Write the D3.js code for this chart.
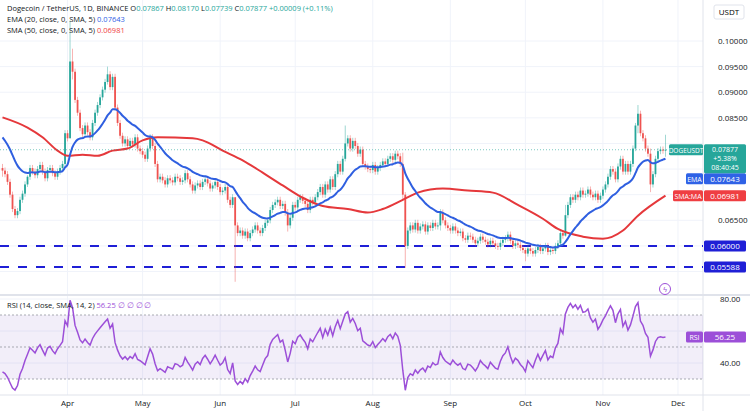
<!DOCTYPE html>
<html><head><meta charset="utf-8">
<script src="https://cdn.jsdelivr.net/npm/d3@7"></script>
<style>
body{margin:0;background:#fff;font-family:"Open Sans",sans-serif}
text{font-family:"Open Sans",sans-serif}
</style></head><body>
<svg id="main-svg" width="750" height="411"></svg>
<script>
// daily closes, Mar 6 .. Nov 27
let closes = [
0.0747,0.0740,0.0725,0.0700,0.0672,0.0660,0.0668,0.0690,0.0702,0.0720,
0.0735,0.0752,0.0745,0.0738,0.0750,0.0758,0.0745,0.0732,0.0748,0.0752,
0.0742,0.0735,0.0745,0.0752,0.0760,0.0820,0.0810,0.0960,0.0940,0.0885,
0.0860,0.0830,0.0818,0.0835,0.0822,0.0812,0.0840,0.0860,0.0875,0.0890,
0.0905,0.0920,0.0935,0.0910,0.0930,0.0870,0.0840,0.0815,0.0800,0.0808,
0.0795,0.0805,0.0798,0.0812,0.0790,0.0785,0.0778,0.0770,0.0790,0.0812,
0.0795,0.0760,0.0730,0.0735,0.0728,0.0720,0.0732,0.0728,0.0724,0.0735,
0.0732,0.0725,0.0728,0.0742,0.0730,0.0720,0.0708,0.0718,0.0722,0.0715,
0.0725,0.0730,0.0722,0.0712,0.0718,0.0725,0.0715,0.0705,0.0708,0.0715,
0.0690,0.0680,0.0695,0.0640,0.0625,0.0630,0.0620,0.0628,0.0615,0.0625,
0.0632,0.0640,0.0630,0.0625,0.0635,0.0645,0.0650,0.0670,0.0680,0.0685,
0.0690,0.0678,0.0682,0.0665,0.0640,0.0655,0.0680,0.0675,0.0690,0.0695,
0.0688,0.0682,0.0670,0.0690,0.0685,0.0695,0.0705,0.0715,0.0700,0.0720,
0.0710,0.0730,0.0715,0.0740,0.0760,0.0745,0.0770,0.0800,0.0810,0.0790,
0.0805,0.0795,0.0780,0.0788,0.0760,0.0755,0.0750,0.0748,0.0758,0.0745,
0.0752,0.0758,0.0765,0.0760,0.0770,0.0775,0.0768,0.0780,0.0775,0.0760,
0.0700,0.0600,0.0630,0.0640,0.0632,0.0645,0.0630,0.0638,0.0642,0.0628,
0.0640,0.0635,0.0645,0.0638,0.0640,0.0665,0.0650,0.0640,0.0635,0.0630,
0.0638,0.0630,0.0625,0.0628,0.0615,0.0612,0.0620,0.0618,0.0612,0.0605,
0.0610,0.0618,0.0612,0.0608,0.0603,0.0610,0.0605,0.0600,0.0598,0.0606,
0.0612,0.0615,0.0622,0.0610,0.0600,0.0605,0.0602,0.0596,0.0592,0.0585,
0.0595,0.0590,0.0585,0.0592,0.0598,0.0590,0.0595,0.0600,0.0588,0.0592,
0.0590,0.0600,0.0605,0.0625,0.0620,0.0660,0.0680,0.0695,0.0690,0.0700,
0.0695,0.0708,0.0700,0.0702,0.0710,0.0700,0.0695,0.0702,0.0690,0.0698,
0.0710,0.0720,0.0735,0.0750,0.0745,0.0730,0.0755,0.0770,0.0745,0.0760,
0.0745,0.0760,0.0790,0.0835,0.0858,0.0820,0.0810,0.0790,0.0780,0.0720,
0.0740,0.0770,0.0785,0.0788,0.0786,0.07877
];
let firstOpen = 0.0752;
// notable wicks: day index -> [high, low]
let bigWicks = {0:[0.0760,0.0735],10:[0.0738,0.0715],27:[0.1040,0.0812],28:[0.0985,0.0925],
  42:[0.0950,0.0915],93:[0.0695,0.0530],114:[0.0672,0.0628],137:[0.0835,0.0765],
  160:[0.0782,0.0690],161:[0.0705,0.0557],175:[0.0672,0.0630],209:[0.0596,0.0570],
  225:[0.0680,0.0618],253:[0.0840,0.0785],254:[0.0875,0.0820],259:[0.0790,0.0705],265:[0.0817,0.0774]};
let startDate = new Date(2022, 2, 6);

// SMA(50) readings
let smaDays = [0,10,16,22,26,32,38,44,50,56,62,76,80,88,96,104,112,120,128,138,146,152,160,166,176,186,196,206,216,222,232,240,248,254,265];
let smaVals = [0.0851,0.0831,0.0812,0.0786,0.0776,0.0778,0.0776,0.0786,0.0790,0.0806,0.0812,0.0810,0.0806,0.0786,0.0767,0.0743,0.0718,0.0694,0.0678,0.0672,0.0665,0.0672,0.0690,0.0704,0.0712,0.0708,0.0704,0.0680,0.0653,0.0633,0.0618,0.0614,0.0630,0.0659,0.06981];
let emaSeed = 0.0812;
let emaLast = 0.07643;
let rsiLevels = [70, 50, 30];
let rsiTicks = [40, 60, 80];
let priceTicks = [0.065, 0.080, 0.085, 0.090, 0.095, 0.100];
let supports = [0.06000, 0.05588];
let monthTicks = ["Apr","May","Jun","Jul","Aug","Sep","Oct","Nov","Dec"];

let svg = d3.select("#main-svg");
let W = 750, plotR = 703, mainB = 294, rsiT = 296, rsiB = 395;

let days = closes.map((c, i) => d3.timeDay.offset(startDate, i));
let candles = closes.map(function (c, i) {
  let o = i == 0 ? firstOpen : closes[i - 1];
  let top = Math.max(o, c), bot = Math.min(o, c);
  let w = bigWicks[i];
  return { d: days[i], o: o, c: c, h: w ? w[0] : top + 0.0006, l: w ? w[1] : bot - 0.0006 };
});

let x = d3.scaleTime().domain([d3.timeDay.offset(startDate, -1), new Date(2022, 11, 11)]).range([0, plotR]);
let y = d3.scaleLinear().domain([0.10000, 0.05588]).range([41, 267]);
let yR = d3.scaleLinear().domain([80, 40]).range([299, 363]);

// grid
let grid = svg.append("g");
grid.selectAll(".vg").data(d3.timeMonth.range(new Date(2022, 3, 1), new Date(2022, 11, 2)))
  .enter().append("line").attr("x1", d => x(d)).attr("x2", d => x(d)).attr("y1", 0).attr("y2", rsiB)
  .attr("stroke", "#f0f3fa");
grid.selectAll(".hg").data(d3.range(0.055, 0.1001, 0.005)).enter().append("line")
  .attr("x1", 0).attr("x2", plotR).attr("y1", d => y(d)).attr("y2", d => y(d)).attr("stroke", "#f0f3fa");
grid.selectAll(".rg").data(rsiTicks).enter().append("line")
  .attr("x1", 0).attr("x2", plotR).attr("y1", d => yR(d)).attr("y2", d => yR(d)).attr("stroke", "#f0f3fa");

svg.append("line").attr("x1", 0).attr("x2", W).attr("y1", mainB + 1).attr("y2", mainB + 1).attr("stroke", "#e0e3eb").attr("stroke-width", 2);
svg.append("line").attr("x1", plotR).attr("x2", plotR).attr("y1", 0).attr("y2", 411).attr("stroke", "#e0e3eb");
svg.append("line").attr("x1", 0).attr("x2", W).attr("y1", rsiB).attr("y2", rsiB).attr("stroke", "#e0e3eb");

// supports
supports.forEach(function (s) {
  svg.append("line").attr("x1", 0).attr("x2", plotR).attr("y1", y(s)).attr("y2", y(s))
    .attr("stroke", "#1f1fd6").attr("stroke-width", 2).attr("stroke-dasharray", "9,9");
});

// candles
let cg = svg.append("g");
cg.selectAll("line").data(candles).enter().append("line")
  .attr("x1", d => x(d.d)).attr("x2", d => x(d.d)).attr("y1", d => y(d.h)).attr("y2", d => y(d.l))
  .attr("stroke", d => d.c >= d.o ? "#26a69a" : "#ef5350").attr("stroke-width", 0.6).attr("opacity", 0.75);
cg.selectAll("rect").data(candles).enter().append("rect")
  .attr("x", d => x(d.d) - 0.9).attr("width", 1.8)
  .attr("y", d => y(Math.max(d.o, d.c))).attr("height", d => Math.max(0.8, Math.abs(y(d.o) - y(d.c))))
  .attr("fill", d => d.c >= d.o ? "#26a69a" : "#ef5350");

// EMA 20
let k = 2 / 21, e = emaSeed;
let ema = closes.map(function (c, i) { e = i == 0 ? emaSeed : c * k + e * (1 - k); return { d: days[i], v: e }; });
let sma = smaDays.map((d, i) => ({ d: days[d], v: smaVals[i] }));
let ln = d3.line().x(d => x(d.d)).y(d => y(d.v)).curve(d3.curveMonotoneX);
svg.append("path").datum(sma).attr("d", ln).attr("fill", "none").attr("stroke", "#e5383b").attr("stroke-width", 2);
svg.append("path").datum(ema).attr("d", ln).attr("fill", "none").attr("stroke", "#2f5fe0").attr("stroke-width", 2);

// last price dotted line
let last = closes[closes.length - 1];
svg.append("line").attr("x1", 0).attr("x2", plotR).attr("y1", y(last)).attr("y2", y(last))
  .attr("stroke", "#26a69a").attr("stroke-dasharray", "1,2").attr("opacity", 0.6);

// RSI
let ag = 0.0006, al = 0.0011;
let rsi = closes.map(function (c, i) {
  let ch = c - (i == 0 ? firstOpen : closes[i - 1]);
  ag = (ag * 13 + Math.max(ch, 0)) / 14; al = (al * 13 + Math.max(-ch, 0)) / 14;
  return { d: days[i], v: 100 - 100 / (1 + ag / al) };
});
svg.append("rect").attr("x", 0).attr("width", plotR).attr("y", yR(70)).attr("height", yR(30) - yR(70)).attr("fill", "#7e57c2").attr("opacity", 0.1);
rsiLevels.forEach(function (l) {
  svg.append("line").attr("x1", 0).attr("x2", plotR).attr("y1", yR(l)).attr("y2", yR(l))
    .attr("stroke", "#9598a1").attr("stroke-dasharray", "2,2").attr("opacity", 0.8);
});
svg.append("path").datum(rsi).attr("d", d3.line().x(d => x(d.d)).y(d => yR(d.v)))
  .attr("fill", "none").attr("stroke", "#9c4fd8").attr("stroke-width", 1.5);

let lastSma = smaVals[smaVals.length - 1];
let lr = rsi[rsi.length - 1].v;
let emaY = Math.max(y(emaLast), y(last) + 29);
// y ranges covered by value tags on the axis
let covered = [[y(last) - 6, y(last) + 24], [emaY - 6, emaY + 6], [y(lastSma) - 6, y(lastSma) + 6],
  [y(supports[0]) - 6, y(supports[0]) + 6], [y(supports[1]) - 6, y(supports[1]) + 6], [yR(lr) - 6, yR(lr) + 6]];
function free(v) { return !covered.some(c => v > c[0] - 3 && v < c[1] + 3); }

// axes text
let ax = svg.append("g").attr("font-size", 8).attr("fill", "#131722");
priceTicks.filter(p => free(y(p))).forEach(function (p) {
  ax.append("text").attr("x", 718).attr("y", y(p) + 3).text(p.toFixed(5));
});
rsiTicks.filter(r => free(yR(r))).forEach(function (r) {
  ax.append("text").attr("x", 720).attr("y", yR(r) + 3).text(r.toFixed(2));
});
monthTicks.forEach(function (m, i) {
  ax.append("text").attr("x", x(new Date(2022, 3 + i, 1))).attr("y", 406).attr("text-anchor", "middle").text(m);
});
svg.append("rect").attr("x", 714).attr("y", 5).attr("width", 30).attr("height", 14).attr("rx", 2).attr("fill", "#fff").attr("stroke", "#e0e3eb");
svg.append("text").attr("x", 729).attr("y", 15).attr("text-anchor", "middle").attr("font-size", 8).text("USDT");

// price labels
function tag(xp, yc, w, h, fill, txt, anchorX, fs) {
  svg.append("rect").attr("x", xp).attr("y", yc - h / 2).attr("width", w).attr("height", h).attr("rx", 1.5).attr("fill", fill);
  svg.append("text").attr("x", anchorX).attr("y", yc + 3).attr("font-size", fs || 8).attr("fill", "#fff").attr("text-anchor", "middle").text(txt);
}
supports.forEach(s => tag(704, y(s), 42, 11, "#1f1fd6", s.toFixed(5), 725));
tag(704, y(lastSma), 42, 11, "#ef3e42", lastSma.toFixed(5), 725);
tag(673, y(lastSma), 30, 11, "#ef3e42", "SMA:MA", 688, 7);
tag(704, emaY, 42, 11, "#2f62e6", emaLast.toFixed(5), 725);
tag(686, emaY, 17, 11, "#2f62e6", "EMA", 694.5, 7);
tag(669, y(last), 34, 11, "#26a69a", "DOGEUSDT", 686, 6.5);
svg.append("rect").attr("x", 704).attr("y", y(last) - 5.5).attr("width", 42).attr("height", 29).attr("rx", 1.5).attr("fill", "#26a69a");
[last.toFixed(5), "+5.38%", "08:40:45"].forEach(function (t, i) {
  svg.append("text").attr("x", 725).attr("y", y(last) + 2.5 + i * 9).attr("font-size", 7).attr("fill", "#fff").attr("text-anchor", "middle").text(t);
});
tag(704, yR(lr), 42, 11, "#9c4fd8", lr.toFixed(2), 725);
tag(686, yR(lr), 17, 11, "#9c4fd8", "RSI", 694.5, 7);

// bolt icon
svg.append("circle").attr("cx", 665).attr("cy", 289).attr("r", 5.5).attr("fill", "#fff").attr("stroke", "#9c4fd8");
svg.append("text").attr("x", 665).attr("y", 292).attr("text-anchor", "middle").attr("font-size", 7).attr("fill", "#9c4fd8").text("ϟ");

// legends
let lg = svg.append("g").attr("font-size", 7.5);
let t1 = lg.append("text").attr("x", 7).attr("y", 11).attr("fill", "#131722");
t1.append("tspan").text("Dogecoin / TetherUS, 1D, BINANCE  ");
[["O", "0.07867"], ["H", "0.08170"], ["L", "0.07739"], ["C", "0.07877"]].forEach(function (p) {
  t1.append("tspan").text(p[0]); t1.append("tspan").attr("fill", "#26a69a").text(p[1] + "  ");
});
t1.append("tspan").attr("fill", "#26a69a").text("+0.00009 (+0.11%)");
let t2 = lg.append("text").attr("x", 7).attr("y", 22).attr("fill", "#131722");
t2.append("tspan").text("EMA (20, close, 0, SMA, 5)  "); t2.append("tspan").attr("fill", "#2f62e6").text(emaLast.toFixed(5));
let t3 = lg.append("text").attr("x", 7).attr("y", 33).attr("fill", "#131722");
t3.append("tspan").text("SMA (50, close, 0, SMA, 5)  "); t3.append("tspan").attr("fill", "#ef3e42").text(lastSma.toFixed(5));
let t4 = lg.append("text").attr("x", 7).attr("y", 308).attr("fill", "#131722");
t4.append("tspan").text("RSI (14, close, SMA, 14, 2)  "); t4.append("tspan").attr("fill", "#9c4fd8").text(lr.toFixed(2) + "  ∅  ∅  ∅  ∅");
</script></body></html>
